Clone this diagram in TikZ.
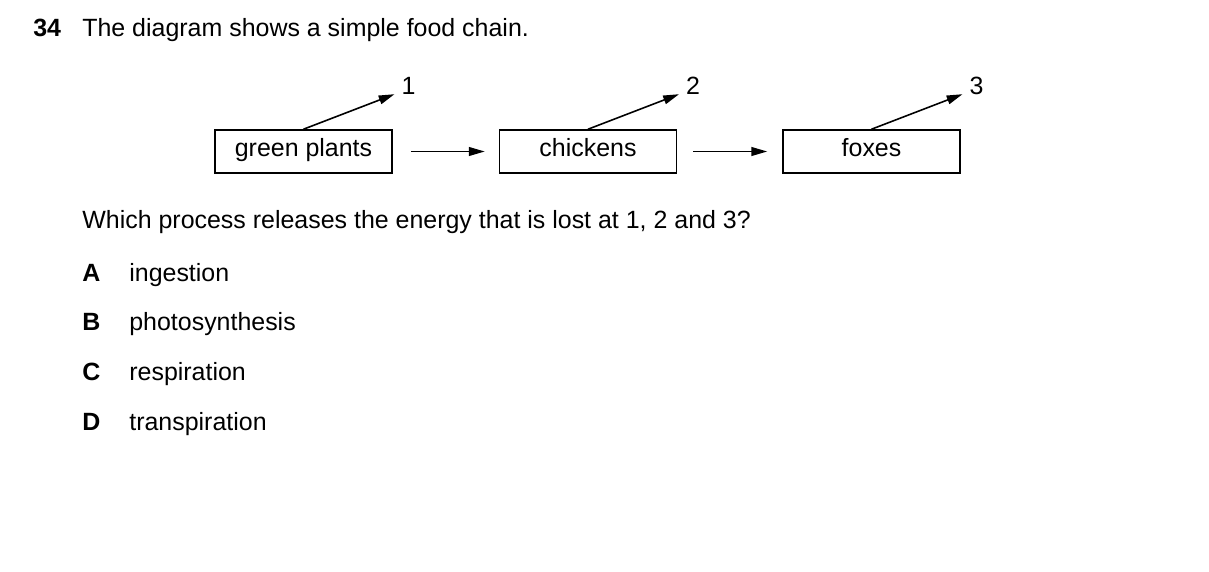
\documentclass[tikz,border=0pt]{standalone}
\usepackage{fontspec}
\setmainfont{Liberation Sans}
\usetikzlibrary{arrows.meta}
\begin{document}
\begin{tikzpicture}[x=0.02cm,y=-0.02cm,font=\fontsize{14.2}{17}\selectfont,
  box/.style={draw,line width=0.9pt,minimum width=177*0.02cm,minimum height=43*0.02cm,inner sep=0pt,text height=1.6ex,text depth=0.45ex},
  txt/.style={anchor=base west,inner sep=0pt},
  flow/.style={line width=0.9pt,-{Triangle[length=9pt,width=5pt]}}]
\useasboundingbox (0,0) rectangle (1209,571);
\node[txt,font=\fontsize{14.2}{17}\selectfont\bfseries] (num) at (33,37) {34};
\node[txt] (title) at (82,37) {The diagram shows a simple food chain.};
\node[box] (plants) at (303.5,151.5) {green plants};
\node[box] (chickens) at (588,151.5) {chickens};
\node[box] (foxes) at (871.5,151.5) {foxes};
\draw[flow] ([xshift=18*0.02cm]plants.east) -- ([xshift=-14*0.02cm]chickens.west);
\draw[flow] ([xshift=16*0.02cm]chickens.east) -- ([xshift=-15*0.02cm]foxes.west);
\foreach \n/\lab in {plants/1,chickens/2,foxes/3}{
  \coordinate (\n tip) at ([xshift=91*0.02cm,yshift=35*0.02cm]\n.north);
  \draw[flow] (\n.north) -- (\n tip);
  \node[inner sep=0pt] (\n loss) at ([xshift=14*0.02cm,yshift=8*0.02cm]\n tip) {\lab};
}
\node[txt] (question) at (82,228) {Which process releases the energy that is lost at 1, 2 and 3?};
\foreach \k/\opt/\ans in {0/A/ingestion,1/B/photosynthesis,2/C/respiration,3/D/transpiration}{
  \node[txt,font=\fontsize{14.2}{17}\selectfont\bfseries] (key\opt) at (82,281+49.7*\k) {\opt};
  \node[txt] (ans\opt) at (129,281+49.7*\k) {\ans};
}
\end{tikzpicture}
\end{document}
